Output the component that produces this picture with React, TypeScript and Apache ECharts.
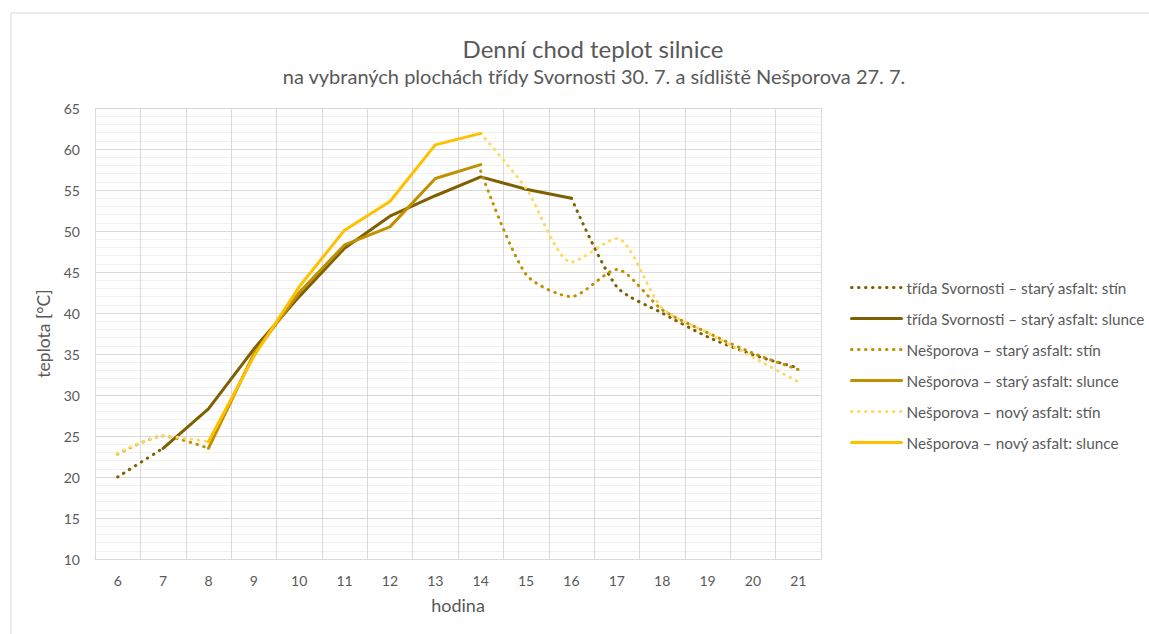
import React, { useEffect, useRef } from "react";
import * as echarts from "echarts";

const hours = ["6", "7", "8", "9", "10", "11", "12", "13", "14", "15", "16", "17", "18", "19", "20", "21"];

const svStin = [20.0, 23.5, null, null, null, null, null, null, null, null, 54.0, 43.2, 40.0, 37.1, 34.9, 33.3];
const svSlunce = [null, 23.5, 28.3, 35.6, 42.0, 47.9, 51.8, 54.3, 56.6, 55.1, 54.0, null, null, null, null, null];
const nsStin = [22.8, 25.0, 23.5, null, null, null, null, null, 57.3, 44.7, 42.0, 45.3, 40.4, 37.6, 35.1, 33.1];
const nsSlunce = [null, null, 23.5, 35.0, 42.5, 48.3, 50.5, 56.4, 58.1, null, null, null, null, null, null, null];
const nnStin = [22.9, 25.0, 24.3, null, null, null, null, null, 61.9, 55.2, 46.2, 49.1, 40.6, 37.6, 34.6, 31.6];
const nnSlunce = [null, null, 24.3, 34.7, 43.2, 50.1, 53.6, 60.5, 61.9, null, null, null, null, null, null, null];

const names = [
  "třída Svornosti – starý asfalt: stín",
  "třída Svornosti – starý asfalt: slunce",
  "Nešporova – starý asfalt: stín",
  "Nešporova – starý asfalt: slunce",
  "Nešporova – nový asfalt: stín",
  "Nešporova – nový asfalt: slunce",
];

const FONT = "Lato, 'Open Sans', sans-serif";

export default function App() {
  const ref = useRef<HTMLDivElement>(null);
  useEffect(() => {
    if (!ref.current) return;
    const chart = echarts.init(ref.current, undefined, { renderer: "svg" });
    const dotted = (name: string, data: (number | null)[], color: string) => ({
      name,
      type: "line",
      data,
      smooth: 0.25,
      symbol: "none",
      connectNulls: false,
      lineStyle: { color, width: 3, type: [0.5, 6.5], cap: "round" },
      itemStyle: { color },
    });
    const solid = (name: string, data: (number | null)[], color: string) => ({
      name,
      type: "line",
      data,
      smooth: false,
      symbol: "none",
      connectNulls: false,
      lineStyle: { color, width: 3, type: "solid", cap: "round", join: "round" },
      itemStyle: { color },
    });
    chart.setOption({
      animation: false,
      textStyle: { fontFamily: FONT },
      title: [
        {
          text: "Denní chod teplot silnice",
          left: 588,
          top: 31,
          textAlign: "center",
          textStyle: { fontSize: 24, fontWeight: "normal", color: "#595959", fontFamily: FONT },
        },
        {
          text: "na vybraných plochách třídy Svornosti 30. 7. a sídliště Nešporova 27. 7.",
          left: 589,
          top: 61,
          textAlign: "center",
          textStyle: { fontSize: 20, fontWeight: "normal", color: "#595959", fontFamily: FONT },
        },
      ],
      legend: {
        orient: "vertical",
        left: 845,
        top: 275,
        itemWidth: 50,
        itemHeight: 14,
        itemGap: 16,
        itemStyle: { opacity: 0, borderWidth: 0 },
        lineStyle: { width: 3 },
        textStyle: { fontSize: 15.3, lineHeight: 14, color: "#595959", fontFamily: FONT },
        data: names,
      },
      graphic: [
        {
          type: "rect",
          shape: { x: 11, y: 13, width: 1300, height: 800 },
          style: { fill: "none", stroke: "#d9d9d9", lineWidth: 1 },
          silent: true,
          z: -10,
        },
      ],
      grid: { left: 95, right: 328, top: 108, bottom: 75 },
      xAxis: {
        type: "category",
        data: hours,
        boundaryGap: true,
        name: "hodina",
        nameLocation: "middle",
        nameGap: 37,
        nameTextStyle: { fontSize: 18, color: "#595959", fontFamily: FONT },
        axisLine: { show: true, lineStyle: { color: "#d9d9d9", width: 1 } },
        axisTick: { show: false },
        axisLabel: { fontSize: 14, color: "#595959", margin: 14, fontFamily: FONT },
        splitLine: { show: true, lineStyle: { color: "#d9d9d9", width: 1 } },
      },
      yAxis: {
        type: "value",
        min: 10,
        max: 65,
        interval: 5,
        name: "teplota [°C]",
        nameLocation: "middle",
        nameGap: 40,
        nameRotate: 90,
        nameTextStyle: { fontSize: 17.5, color: "#595959", fontFamily: FONT },
        axisLine: { show: false },
        axisTick: { show: false },
        axisLabel: { fontSize: 14, color: "#595959", margin: 15, fontFamily: FONT },
        splitLine: { show: true, lineStyle: { color: "#d9d9d9", width: 1 } },
        minorTick: { show: false, splitNumber: 5 },
        minorSplitLine: { show: true, lineStyle: { color: "#f0f0f0", width: 1 } },
      },
      series: [
        dotted(names[0], svStin, "#7F6000"),
        solid(names[1], svSlunce, "#7F6000"),
        dotted(names[2], nsStin, "#BF9000"),
        solid(names[3], nsSlunce, "#BF9000"),
        dotted(names[4], nnStin, "#FFD966"),
        solid(names[5], nnSlunce, "#FFC000"),
      ],
    });
    return () => chart.dispose();
  }, []);
  return <div ref={ref} style={{ width: 1149, height: 634, position: "absolute", left: 0, top: 0 }} />;
}
